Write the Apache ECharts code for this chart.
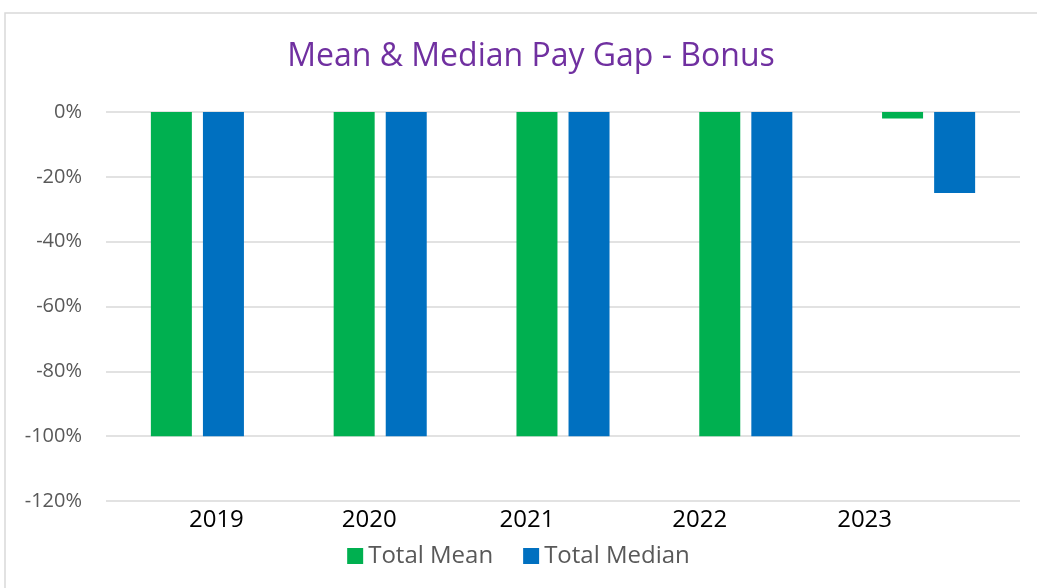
<!doctype html>
<html>
	<head>
		<meta charset="utf-8">
		<title>Mean & Median Pay Gap - Bonus</title>
		<script src="https://cdn.jsdelivr.net/npm/echarts@6/dist/echarts.min.js"></script>
		<style>
			html, body { margin: 0; padding: 0; background: #fff; }
			#main { width: 1037px; height: 588px; }
		</style>
	</head>
	<body>
		<div id="main"></div>
		<script>
			// data
			var years = ['2019', '2020', '2021', '2022', '2023'];
			var totalMean = [-100, -100, -100, -100, -2];
			var totalMedian = [-100, -100, -100, -100, -25];
			var yTicks = [0, -20, -40, -60, -80, -100, -120];

			// Excel put the year labels a bit off the group centres
			var labelShift = [19, -11, -36, -46, -64];

			var myChart = echarts.init(document.getElementById('main'));

			var catData = years.map(function (y, i) {
				var s = labelShift[i];
				var pad = s > 0 ? [0, 0, 0, 2 * s] : [0, -2 * s, 0, 0];
				return { value: y, textStyle: { padding: pad } };
			});

			var option = {
				animation: false,
				textStyle: { fontFamily: 'Open Sans' },
				graphic: [{
					type: 'rect',
					shape: { x: 5, y: 13, width: 1100, height: 700 },
					style: { fill: 'none', stroke: '#d9d9d9', lineWidth: 1.5 }
				}],
				title: {
					text: 'Mean & Median Pay Gap - Bonus',
					left: 526,
					top: 36,
					textAlign: 'center',
					textStyle: { color: '#7030A0', fontSize: 32, fontWeight: 'normal', fontFamily: 'Open Sans' }
				},
				legend: {
					data: ['Total Mean', 'Total Median'],
					bottom: 15,
					left: 'center',
					itemWidth: 16,
					itemHeight: 16,
					itemGap: 30,
					icon: 'rect',
					textStyle: { color: '#595959', fontSize: 24, fontFamily: 'Open Sans' }
				},
				grid: { left: 106, right: 17, top: 112, bottom: 87 },
				xAxis: {
					type: 'category',
					data: catData,
					axisLine: { show: false, onZero: false },
					axisTick: { show: false },
					axisLabel: { color: '#000', fontSize: 24, margin: 7, fontFamily: 'Open Sans' }
				},
				yAxis: {
					type: 'value',
					min: yTicks[yTicks.length - 1],
					max: yTicks[0],
					interval: 20,
					axisLine: { show: false },
					axisTick: { show: false },
					splitLine: { lineStyle: { color: '#d9d9d9', width: 1.5 } },
					axisLabel: {
						color: '#595959',
						fontSize: 20,
						margin: 24,
						fontFamily: 'Open Sans',
						formatter: function (v) { return v + '%'; }
					}
				},
				series: [{
					name: 'Total Mean',
					type: 'bar',
					data: totalMean,
					barWidth: 41,
					barGap: '27%',
					itemStyle: { color: '#00B050' }
				}, {
					name: 'Total Median',
					type: 'bar',
					data: totalMedian,
					barWidth: 41,
					itemStyle: { color: '#0070C0' }
				}]
			};
			myChart.setOption(option);
		</script>
	</body>
</html>
